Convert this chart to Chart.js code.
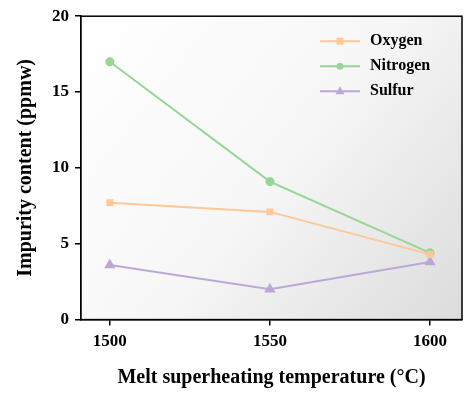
<!DOCTYPE html>
<html><head><meta charset="utf-8">
<script src="https://cdn.jsdelivr.net/npm/chart.js@4"></script>
<style>html,body{margin:0;padding:0;background:#fff}#w{width:474px;height:402px}</style>
</head><body><div id="w"><canvas id="c"></canvas></div>
<script>
const temps=[1500,1550,1600];
const oxygen=[7.7,7.1,4.3];
const nitrogen=[17.0,9.1,4.4];
const sulfur=[3.6,2.0,3.8];
const yTicks=[0,5,10,15,20];
const F="'Liberation Serif', serif";
const mk=(a)=>a.map((v,i)=>({x:temps[i],y:v}));
const frame={id:'frame',
beforeDatasetsDraw(ch){const {ctx,chartArea:a}=ch;ctx.save();const g=ctx.createLinearGradient(a.left,a.top,a.right,a.bottom);g.addColorStop(0,'#ffffff');g.addColorStop(0.5,'#f7f7f7');g.addColorStop(1,'#dcdcdc');ctx.fillStyle=g;ctx.fillRect(a.left,a.top,a.right-a.left,a.bottom-a.top);ctx.restore();},
afterDraw(ch){const {ctx,chartArea:a}=ch;ctx.save();ctx.strokeStyle='#000';ctx.lineWidth=1.5;ctx.strokeRect(a.left,a.top,a.right-a.left,a.bottom-a.top);
ctx.font="bold 16px "+F;ctx.textBaseline='middle';
ch.data.datasets.forEach((d,i)=>{const y=a.top+25+i*25,x0=a.right-142;ctx.strokeStyle=d.borderColor;ctx.lineWidth=2;ctx.beginPath();ctx.moveTo(x0,y);ctx.lineTo(x0+40,y);ctx.stroke();
ctx.fillStyle=d.borderColor;ctx.beginPath();const cx=x0+20;
if(d.pointStyle==='rect')ctx.rect(cx-3.5,y-3.5,7,7);else if(d.pointStyle==='circle')ctx.arc(cx,y,3.5,0,Math.PI*2);else{ctx.moveTo(cx,y-5);ctx.lineTo(cx+4.5,y+3);ctx.lineTo(cx-4.5,y+3);ctx.closePath();}
ctx.fill();ctx.fillStyle='#000';ctx.fillText(d.label,x0+50,y);});
ctx.restore();}};
new Chart(document.getElementById('c'),{type:'line',
data:{datasets:[
{label:'Oxygen',data:mk(oxygen),borderColor:'#ffc896',backgroundColor:'#ffc896',pointStyle:'rect',pointRadius:3.5,borderWidth:2},
{label:'Nitrogen',data:mk(nitrogen),borderColor:'#96d696',backgroundColor:'#96d696',pointStyle:'circle',pointRadius:3.5,borderWidth:2},
{label:'Sulfur',data:mk(sulfur),borderColor:'#bca8d8',backgroundColor:'#bca8d8',pointStyle:'triangle',pointRadius:4.5,borderWidth:2}]},
options:{responsive:true,maintainAspectRatio:false,animation:false,
layout:{padding:{top:12,right:12,left:10,bottom:8}},
plugins:{legend:{display:false},tooltip:{enabled:false}},
scales:{
x:{type:'linear',min:1491,max:1610,afterBuildTicks(s){s.ticks=temps.map(v=>({value:v}));},
grid:{drawOnChartArea:false,tickLength:6,color:'#000',lineWidth:1.5},border:{color:'#000',width:1.5},
ticks:{color:'#000',font:{family:F,size:17,weight:'bold'},padding:6,maxRotation:0,callback:v=>String(v)},
title:{display:true,text:'Melt superheating temperature (°C)',color:'#000',font:{family:F,size:20,weight:'bold'},padding:{top:8}}},
y:{min:0,max:20,afterBuildTicks(s){s.ticks=yTicks.map(v=>({value:v}));},
grid:{drawOnChartArea:false,tickLength:6,color:'#000',lineWidth:1.5},border:{color:'#000',width:1.5},
ticks:{color:'#000',font:{family:F,size:17,weight:'bold'},padding:6},
title:{display:true,text:'Impurity content (ppmw)',color:'#000',font:{family:F,size:20,weight:'bold'},padding:{bottom:8}}}}},
plugins:[frame]});
</script></body></html>
